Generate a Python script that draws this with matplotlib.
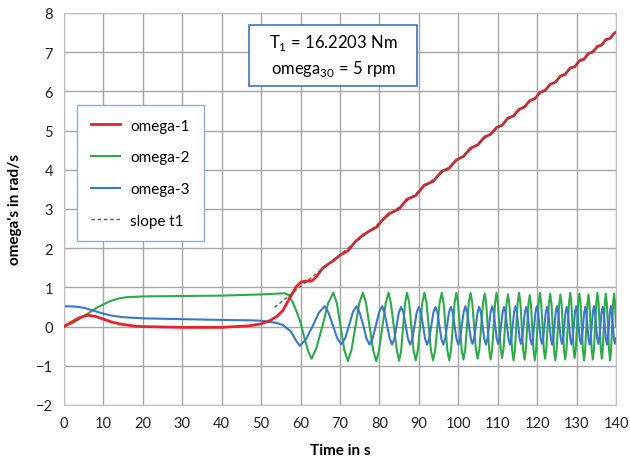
import matplotlib
matplotlib.use("Agg")
import matplotlib.pyplot as plt
from matplotlib.patches import Rectangle

plt.rcParams['font.family'] = ['Lato', 'DejaVu Sans']
plt.rcParams['mathtext.fontset'] = 'custom'
plt.rcParams['mathtext.rm'] = 'Lato'

# omega-1 (red)
t_w1 = [0, 2, 4, 6, 8, 10, 12, 14, 16, 18, 20, 30, 40, 47, 50, 52.2, 54, 55.5, 57.2, 58.9,
        60.2, 61.5, 62.8, 64.0, 65.5, 66.8, 68.3, 70.1, 72.0, 73.9, 75.8, 77.5, 79.2, 80.8,
        82.3, 85.0, 87.0, 89.2, 91.4, 93.6, 95.8, 97.7, 99.5, 101.3, 103.1, 104.9, 106.7,
        108.2, 109.7, 111.1, 112.6, 114.0, 115.4, 116.8, 118.1, 119.4, 120.7, 122.0, 123.3,
        124.6, 125.9, 127.1, 128.4, 129.5, 130.7, 131.9, 133.0, 134.1, 135.3, 136.4, 137.4,
        138.5, 139.5, 140]
w1 = [0, 0.12, 0.23, 0.29, 0.26, 0.19, 0.12, 0.07, 0.04, 0.01, 0.0, -0.02, -0.02, 0.02, 0.07,
      0.15, 0.26, 0.41, 0.72, 1.02,
      1.14, 1.16, 1.16, 1.27, 1.48, 1.58, 1.68, 1.83, 1.93, 2.17, 2.33, 2.44, 2.53, 2.72,
      2.87, 3.00, 3.25, 3.34, 3.61, 3.70, 3.96, 4.04, 4.25, 4.34, 4.55, 4.63, 4.84,
      4.90, 5.08, 5.13, 5.32, 5.37, 5.54, 5.60, 5.76, 5.81, 5.97, 6.02, 6.18,
      6.23, 6.39, 6.43, 6.60, 6.62, 6.78, 6.82, 6.97, 7.00, 7.15, 7.18, 7.32,
      7.35, 7.48, 7.51]

# omega-2 (green)
t_w2 = [0, 2, 4, 6, 8, 10, 12, 14, 16, 20, 30, 40, 47, 50, 54, 56, 57, 58, 59, 60, 61, 62,
        62.8, 64.0, 65.5, 67.0, 68.3, 69.2, 70.15, 71.1, 72.0, 72.9, 73.9, 74.9, 75.8,
        76.6, 77.5, 78.4, 79.2, 79.9, 80.75, 81.6, 82.3, 82.9, 83.65, 84.4, 85.0,
        85.5, 86.0, 86.5, 87.0, 87.55, 88.1, 88.65, 89.2, 89.75, 90.3, 90.85, 91.4,
        91.95, 92.5, 93.05, 93.6, 94.15, 94.7, 95.25, 95.8, 96.28, 96.75, 97.22, 97.7,
        98.15, 98.6, 99.05, 99.5, 99.95, 100.4, 100.85, 101.3, 101.75, 102.2, 102.65, 103.1,
        103.55, 104.0, 104.45, 104.9, 105.35, 105.8, 106.25, 106.7, 107.08, 107.45, 107.83, 108.2,
        108.58, 108.95, 109.33, 109.7, 110.05, 110.4, 110.75, 111.1, 111.48, 111.85, 112.23, 112.6,
        112.95, 113.3, 113.65, 114.0, 114.35, 114.7, 115.05, 115.4, 115.75, 116.1, 116.45, 116.8,
        117.13, 117.45, 117.78, 118.1, 118.43, 118.75, 119.08, 119.4, 119.73, 120.05, 120.38, 120.7,
        121.03, 121.35, 121.68, 122.0, 122.33, 122.65, 122.98, 123.3, 123.63, 123.95, 124.28, 124.6,
        124.93, 125.25, 125.58, 125.9, 126.2, 126.5, 126.8, 127.1, 127.43, 127.75, 128.08, 128.4,
        128.68, 128.95, 129.23, 129.5, 129.8, 130.1, 130.4, 130.7, 131.0, 131.3, 131.6, 131.9,
        132.18, 132.45, 132.73, 133.0, 133.28, 133.55, 133.83, 134.1, 134.4, 134.7, 135.0, 135.3,
        135.58, 135.85, 136.13, 136.4, 136.65, 136.9, 137.15, 137.4, 137.68, 137.95, 138.23, 138.5,
        138.75, 139.0, 139.25, 139.5, 139.75, 140.0]
w2 = [0, 0.08, 0.2, 0.33, 0.46, 0.57, 0.66, 0.72, 0.75, 0.77, 0.78, 0.79, 0.81, 0.82, 0.84,
      0.85, 0.8, 0.62, 0.38, 0.1, -0.3, -0.65,
      -0.82, -0.55, 0.0, 0.6, 0.86, 0.6, 0.0, -0.6, -0.88, -0.6, 0.0, 0.6, 0.86,
      0.6, 0.0, -0.6, -0.88, -0.6, 0.0, 0.6, 0.86, 0.6, 0.0, -0.6, -0.87,
      -0.61, 0.0, 0.6, 0.86, 0.6, 0.0, -0.6, -0.86, -0.6, 0.0, 0.6, 0.86,
      0.6, 0.0, -0.6, -0.86, -0.6, 0.0, 0.6, 0.86, 0.6, 0.0, -0.6, -0.86,
      -0.6, 0.0, 0.6, 0.86, 0.6, 0.0, -0.59, -0.84, -0.59, 0.01, 0.6, 0.86,
      0.6, 0.02, -0.57, -0.82, -0.57, 0.01, 0.59, 0.84, 0.59, 0.0, -0.59, -0.84,
      -0.59, 0.01, 0.6, 0.86, 0.6, 0.03, -0.56, -0.8, -0.56, 0.01, 0.57, 0.82,
      0.57, -0.02, -0.6, -0.86, -0.6, 0.0, 0.6, 0.86, 0.6, 0.01, -0.59, -0.84,
      -0.59, -0.02, 0.56, 0.8, 0.56, -0.03, -0.6, -0.86, -0.6, 0.0, 0.6, 0.86,
      0.6, 0.02, -0.57, -0.82, -0.57, 0.01, 0.59, 0.84, 0.59, -0.01, -0.6, -0.86,
      -0.6, -0.02, 0.57, 0.82, 0.57, -0.01, -0.59, -0.84, -0.59, 0.01, 0.6, 0.86,
      0.6, 0.03, -0.56, -0.8, -0.56, 0.02, 0.59, 0.84, 0.59, -0.01, -0.6, -0.86,
      -0.6, -0.02, 0.57, 0.82, 0.57, -0.01, -0.59, -0.84, -0.59, 0.01, 0.6, 0.86,
      0.6, 0.02, -0.57, -0.82, -0.57, 0.01, 0.59, 0.84, 0.59, -0.01, -0.6, -0.86,
      -0.6, -0.01, 0.59, 0.84, 0.6, 0.0]

# omega-3 (blue)
t_w3 = [0, 3, 5, 8, 10, 12, 15, 20, 30, 40, 47, 50, 52.2, 54, 55.5, 57.5, 59.0, 59.8,
        61.4, 63.0, 64.6, 66.1, 67.1, 68.2, 69.3, 70.3, 71.3, 72.3, 73.3, 74.2,
        75.0, 75.9, 76.7, 77.5, 78.3, 79.1, 79.9, 80.7, 81.3, 81.95, 82.6, 83.2,
        83.78, 84.35, 84.93, 85.5, 86.08, 86.65, 87.23, 87.8, 88.35, 88.9, 89.45, 90.0,
        90.53, 91.05, 91.58, 92.1, 92.63, 93.15, 93.68, 94.2, 94.7, 95.2, 95.7, 96.2,
        96.68, 97.15, 97.63, 98.1, 98.58, 99.05, 99.53, 100.0, 100.45, 100.9, 101.35, 101.8,
        102.25, 102.7, 103.15, 103.6, 104.03, 104.45, 104.88, 105.3, 105.73, 106.15, 106.58, 107.0,
        107.4, 107.8, 108.2, 108.6, 108.98, 109.35, 109.73, 110.1, 110.48, 110.85, 111.23, 111.6,
        111.98, 112.35, 112.73, 113.1, 113.45, 113.8, 114.15, 114.5, 114.85, 115.2, 115.55, 115.9,
        116.23, 116.55, 116.88, 117.2, 117.55, 117.9, 118.25, 118.6, 118.93, 119.25, 119.58, 119.9,
        120.23, 120.55, 120.88, 121.2, 121.53, 121.85, 122.18, 122.5, 122.83, 123.15, 123.48, 123.8,
        124.1, 124.4, 124.7, 125.0, 125.33, 125.65, 125.98, 126.3, 126.6, 126.9, 127.2, 127.5,
        127.8, 128.1, 128.4, 128.7, 129.0, 129.3, 129.6, 129.9, 130.2, 130.5, 130.8, 131.1,
        131.38, 131.65, 131.93, 132.2, 132.48, 132.75, 133.03, 133.3, 133.58, 133.85, 134.13, 134.4,
        134.68, 134.95, 135.23, 135.5, 135.78, 136.05, 136.33, 136.6, 136.88, 137.15, 137.43, 137.7,
        137.95, 138.2, 138.45, 138.7, 138.95, 139.2, 139.45, 139.7, 140.0]
w3 = [0.52, 0.51, 0.48, 0.39, 0.33, 0.28, 0.24, 0.21, 0.19, 0.17, 0.16, 0.15, 0.12, 0.09, 0.04,
      -0.12, -0.38, -0.49,
      -0.32, 0.0, 0.35, 0.52, 0.35, 0.03, -0.3, -0.45, -0.3, 0.03, 0.38, 0.52,
      0.35, 0.03, -0.3, -0.46, -0.3, 0.03, 0.36, 0.52, 0.35, 0.03, -0.3, -0.46,
      -0.31, 0.03, 0.36, 0.5, 0.36, 0.03, -0.31, -0.46, -0.31, 0.03, 0.36, 0.5,
      0.36, 0.03, -0.31, -0.46, -0.31, 0.03, 0.36, 0.5, 0.36, 0.03, -0.31, -0.46,
      -0.31, 0.03, 0.36, 0.5, 0.36, 0.03, -0.31, -0.46, -0.31, 0.03, 0.37, 0.52,
      0.37, 0.03, -0.3, -0.44, -0.3, 0.03, 0.36, 0.5, 0.36, 0.03, -0.31, -0.46,
      -0.31, 0.03, 0.37, 0.52, 0.37, 0.03, -0.3, -0.44, -0.3, 0.03, 0.36, 0.5,
      0.36, 0.03, -0.31, -0.46, -0.31, 0.03, 0.37, 0.52, 0.37, 0.03, -0.3, -0.44,
      -0.3, 0.03, 0.36, 0.5, 0.36, 0.03, -0.31, -0.46, -0.31, 0.03, 0.37, 0.52,
      0.37, 0.03, -0.3, -0.44, -0.3, 0.03, 0.36, 0.5, 0.36, 0.03, -0.31, -0.46,
      -0.31, 0.03, 0.37, 0.52, 0.37, 0.03, -0.3, -0.44, -0.3, 0.03, 0.36, 0.5,
      0.36, 0.03, -0.31, -0.46, -0.31, 0.03, 0.37, 0.52, 0.37, 0.03, -0.3, -0.44,
      -0.3, 0.03, 0.36, 0.5, 0.36, 0.03, -0.31, -0.46, -0.31, 0.03, 0.37, 0.52,
      0.37, 0.03, -0.3, -0.44, -0.3, 0.03, 0.36, 0.5, 0.36, 0.03, -0.31, -0.46,
      -0.31, 0.03, 0.37, 0.52, 0.37, 0.03, -0.3, -0.44, -0.3]

# slope t1 (dashed)
t_slope = [53.4, 140]
slope = [0.49, 7.50]

fig = plt.figure(figsize=(6.3, 4.64), dpi=100)
ax = fig.add_axes([0.1016, 0.125, 0.8762, 0.845])

ax.plot(t_w1, w1, color='#E8222A', lw=2.0, label='omega-1', zorder=3)
ax.plot(t_w2, w2, color='#2EAA4A', lw=1.5, label='omega-2', zorder=2)
ax.plot(t_w3, w3, color='#3A78C9', lw=1.5, label='omega-3', zorder=2.5)
ax.plot(t_slope, slope, color='#555555', lw=1.0, ls=(0, (2.5, 2)), label='slope t1', zorder=4)

ax.set_xlim(0, 140)
ax.set_ylim(-2, 8)
ax.set_xticks(range(0, 141, 10))
ax.set_yticks(range(-2, 9))
ax.grid(True, color='#a6a6a6', lw=1.0)
ax.set_axisbelow(True)
for s in ax.spines.values():
    s.set_color('#bfbfbf')
ax.tick_params(length=0, labelsize=10.5, colors='#222222', pad=8)

ax.set_xlabel('Time in s', fontsize=11, fontweight='bold', labelpad=9)
ax.set_ylabel("omega's in rad/s", fontsize=11, fontweight='bold', labelpad=10)

leg = ax.legend(loc='upper left', bbox_to_anchor=(0.0235, 0.765), borderaxespad=0,
                fontsize=11, fancybox=False, framealpha=1, edgecolor='#8faadc',
                handlelength=1.9, labelspacing=1.15, borderpad=0.9, handletextpad=0.7)
leg.get_frame().set_linewidth(1.0)

# info box
ax.add_patch(Rectangle((0.336, 0.814), 0.304, 0.155, transform=ax.transAxes,
                       fc='white', ec='#4472c4', lw=1.2, zorder=5))
ax.text(0.488, 0.8915, 'T$_1$ = 16.2203 Nm\nomega$_{30}$ = 5 rpm', transform=ax.transAxes,
        ha='center', va='center', fontsize=12, linespacing=1.4, zorder=6)

fig.savefig('out.png', dpi=100, facecolor='white')
